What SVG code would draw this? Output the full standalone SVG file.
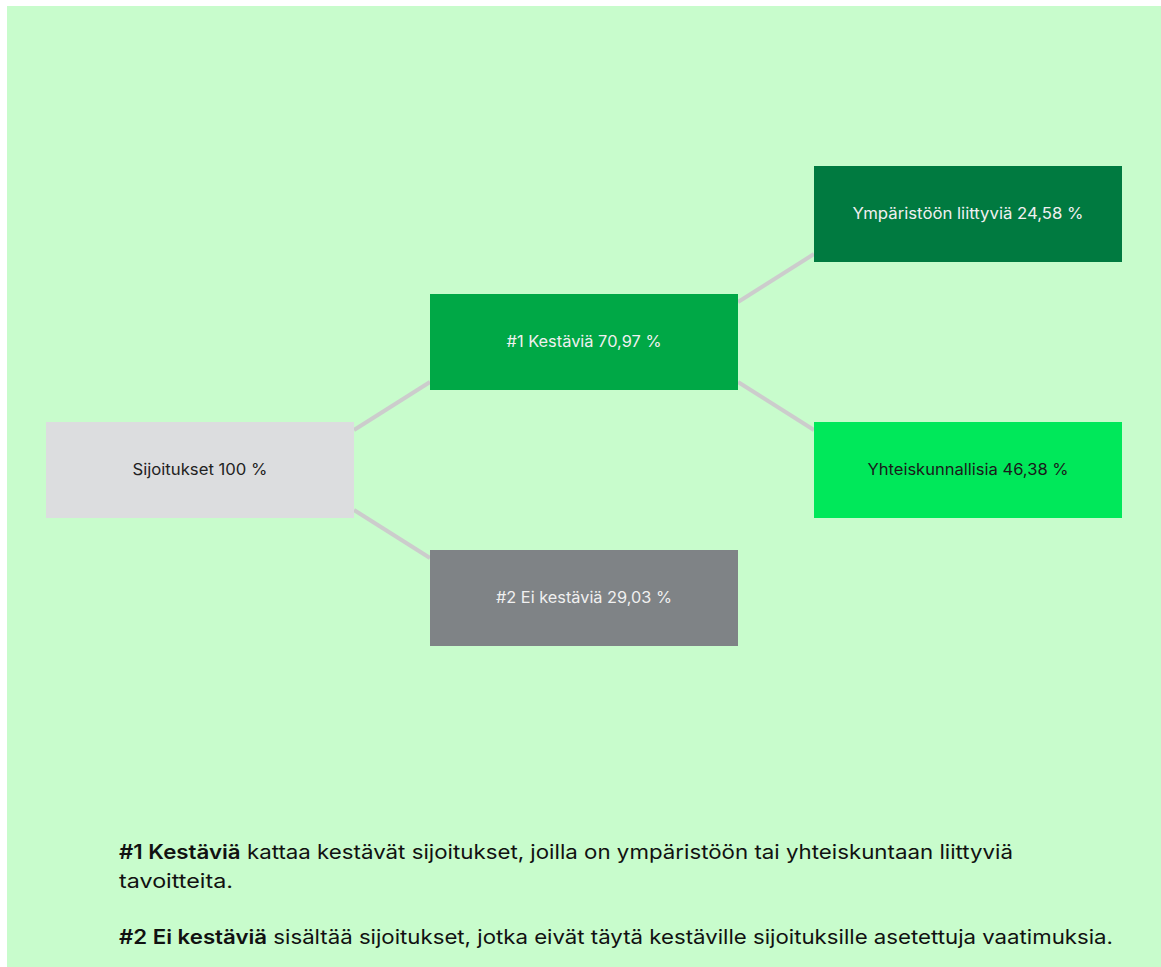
<svg xmlns="http://www.w3.org/2000/svg" width="1161" height="967" viewBox="0 0 1161 967">
<style>
.node text{font-family:Inter,"Liberation Sans",sans-serif;font-size:15.5px;text-anchor:middle;dominant-baseline:central;fill:#f0f0f0}
.conn line{stroke:#cccccc;stroke-width:4}
.note{font-family:Inter,"Liberation Sans",sans-serif;font-size:19.5px;fill:#111111}
.note .b{font-weight:600}
</style>
<rect x="0" y="0" width="1161" height="967" fill="#ffffff"/>
<rect x="7" y="6" width="1154" height="961" fill="#c8fccc"/>
<g class="conn">
<line x1="354" y1="430" x2="430" y2="382"/>
<line x1="354" y1="510" x2="430" y2="558"/>
<line x1="738" y1="302" x2="814" y2="254"/>
<line x1="738" y1="382" x2="814" y2="430"/>
</g>
<g id="sijoitukset" class="node">
<rect x="46" y="422" width="308" height="96" fill="#dcdddf"/>
<text x="200" y="469" style="fill:#222222" textLength="135" lengthAdjust="spacingAndGlyphs">Sijoitukset 100 %</text>
</g>
<g id="kestavia" class="node">
<rect x="430" y="294" width="308" height="96" fill="#00a846"/>
<text x="584" y="341" textLength="155" lengthAdjust="spacingAndGlyphs">#1 Kestäviä 70,97 %</text>
</g>
<g id="ei-kestavia" class="node">
<rect x="430" y="550" width="308" height="96" fill="#7f8386"/>
<text x="584" y="597" textLength="176" lengthAdjust="spacingAndGlyphs">#2 Ei kestäviä 29,03 %</text>
</g>
<g id="ymparisto" class="node">
<rect x="814" y="166" width="308" height="96" fill="#007a40"/>
<text x="968" y="213" textLength="231" lengthAdjust="spacingAndGlyphs">Ympäristöön liittyviä 24,58 %</text>
</g>
<g id="yhteiskunnallisia" class="node">
<rect x="814" y="422" width="308" height="96" fill="#00e85a"/>
<text x="968" y="469" style="fill:#1a1a1a" textLength="201" lengthAdjust="spacingAndGlyphs">Yhteiskunnallisia 46,38 %</text>
</g>
<g id="notes">
<text class="note" x="119" y="859" textLength="894" lengthAdjust="spacingAndGlyphs"><tspan class="b">#1 Kestäviä</tspan> kattaa kestävät sijoitukset, joilla on ympäristöön tai yhteiskuntaan liittyviä</text>
<text class="note" x="119" y="888" textLength="114" lengthAdjust="spacingAndGlyphs">tavoitteita.</text>
<text class="note" x="119" y="944" textLength="994" lengthAdjust="spacingAndGlyphs"><tspan class="b">#2 Ei kestäviä</tspan> sisältää sijoitukset, jotka eivät täytä kestäville sijoituksille asetettuja vaatimuksia.</text>
</g>
</svg>
